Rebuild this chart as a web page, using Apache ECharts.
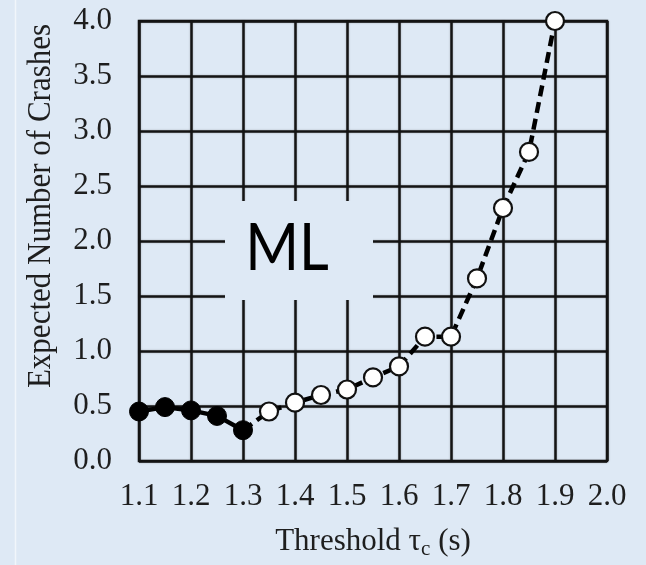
<!DOCTYPE html>
<html>
<head>
<meta charset="utf-8">
<style>
  html, body { margin: 0; padding: 0; background: #dee9f5; }
  #chart { width: 646px; height: 565px; }
</style>
<script src="https://cdn.jsdelivr.net/npm/echarts@6/dist/echarts.min.js"></script>
</head>
<body>
<div id="chart"></div>
<script>
// Expected number of crashes vs. threshold tau_c
// Solid markers: low thresholds; hollow markers: higher thresholds
const thresholdSolid = [1.10, 1.15, 1.20, 1.25, 1.30];
const crashesSolid   = [0.45, 0.49, 0.46, 0.41, 0.28];

const thresholdHollow = [1.35, 1.40, 1.45, 1.50, 1.55, 1.60, 1.65, 1.70, 1.75, 1.80, 1.85, 1.90];
const crashesHollow   = [0.45, 0.53, 0.60, 0.65, 0.76, 0.86, 1.13, 1.13, 1.66, 2.30, 2.81, 4.00];

const xRange = [1.1, 2.0, 0.1];
const yRange = [0.0, 4.0, 0.5];

const xTitle = 'Threshold τ{sub|c} (s)';
const yTitle = 'Expected Number of Crashes';
const boxText = 'ML';

const BG = '#dee9f5';
const INK = '#141414';
const SERIF = '"Liberation Serif", "Times New Roman", serif';

const solidData = thresholdSolid.map((x, i) => [x, crashesSolid[i]]);
// dashed curve starts from the last solid point
const hollowData = [
  { value: [thresholdSolid[thresholdSolid.length - 1], crashesSolid[crashesSolid.length - 1]], symbol: 'none' }
].concat(thresholdHollow.map((x, i) => [x, crashesHollow[i]]));

const gridLine = {
  show: true,
  lineStyle: { color: INK, width: 2.5, shadowColor: 'rgba(0,0,0,0.3)', shadowBlur: 2 }
};

const chart = echarts.init(document.getElementById('chart'), null, { renderer: 'canvas' });

chart.setOption({
  backgroundColor: BG,
  animation: false,
  grid: {
    left: 139, right: 39, top: 21, bottom: 102,
    show: true, borderColor: INK, borderWidth: 2.5, backgroundColor: 'transparent'
  },
  xAxis: {
    type: 'value',
    min: xRange[0], max: xRange[1], interval: xRange[2],
    axisLine: { show: false },
    axisTick: { show: false },
    splitLine: gridLine,
    axisLabel: {
      fontFamily: SERIF, fontSize: 31, color: '#1e1e1e', margin: 20,
      formatter: v => v.toFixed(1)
    },
    name: xTitle,
    nameLocation: 'middle',
    nameGap: 62,
    nameTextStyle: {
      fontFamily: SERIF, fontSize: 31, color: '#1e1e1e',
      rich: {
        sub: { fontFamily: SERIF, fontSize: 21, color: '#1e1e1e', verticalAlign: 'bottom', padding: [16, 0, 0, 0] }
      }
    }
  },
  yAxis: {
    type: 'value',
    min: yRange[0], max: yRange[1], interval: yRange[2],
    axisLine: { show: false },
    axisTick: { show: false },
    splitLine: gridLine,
    axisLabel: {
      fontFamily: SERIF, fontSize: 31, color: '#1e1e1e', margin: 27,
      formatter: v => v.toFixed(1)
    }
  },
  graphic: [
    {
      type: 'line', z: 0, silent: true,
      shape: { x1: 15.5, y1: 0, x2: 15.5, y2: 565 },
      style: { stroke: '#f1f6fb', lineWidth: 1.5 }
    },
    {
      type: 'text', z: 10, silent: true,
      x: 41, y: 206, rotation: Math.PI / 2, scaleY: 1.1,
      style: {
        text: yTitle, fontFamily: SERIF, fontSize: 31, fill: '#1e1e1e',
        align: 'center', verticalAlign: 'middle'
      }
    },
    {
      type: 'rect', z: 1, silent: true,
      shape: { x: 225, y: 201, width: 148, height: 99 },
      style: { fill: BG }
    },
    {
      type: 'text', z: 2, silent: true,
      x: 287, y: 249, scaleY: 1.13,
      style: {
        text: boxText, fontFamily: 'Lato, "Noto Sans", sans-serif', fontSize: 58, fill: '#000',
        align: 'center', verticalAlign: 'middle'
      }
    }
  ],
  series: [
    {
      type: 'line',
      data: hollowData,
      z: 3,
      clip: false,
      symbol: 'circle',
      symbolSize: 18,
      lineStyle: { color: '#000', width: 4.5, type: [11, 6] },
      itemStyle: { color: '#ffffff', borderColor: '#111', borderWidth: 2.2 }
    },
    {
      type: 'line',
      data: solidData,
      z: 4,
      clip: false,
      symbol: 'circle',
      symbolSize: 19,
      lineStyle: { color: '#000', width: 4.5 },
      itemStyle: { color: '#000', borderColor: '#000', borderWidth: 1 }
    }
  ]
});
</script>
</body>
</html>
